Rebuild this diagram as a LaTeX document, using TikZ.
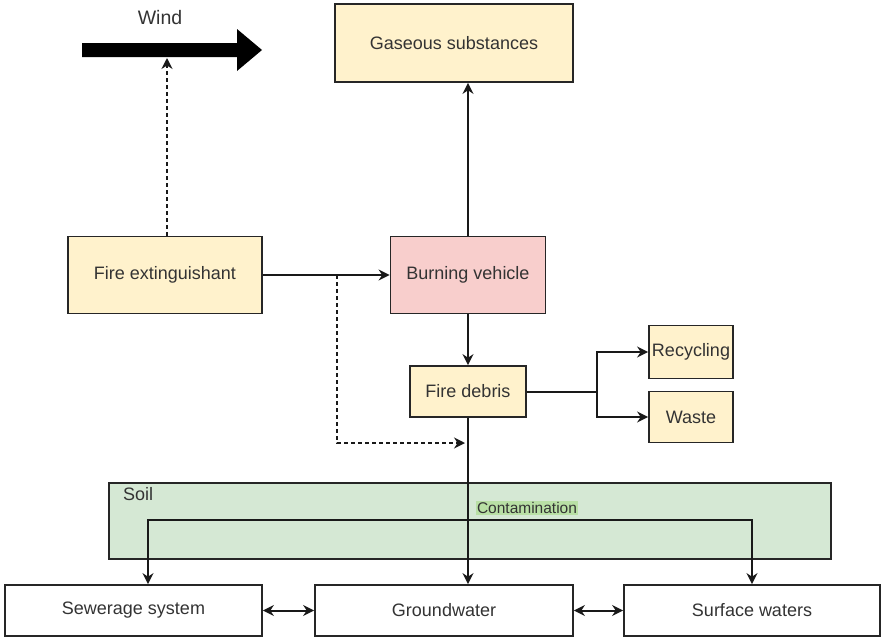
\documentclass[tikz,border=0pt]{standalone}
\usepackage{fontspec}
\setmainfont{Liberation Sans}
\usetikzlibrary{arrows.meta}
\definecolor{yfill}{HTML}{FFF2CC}
\definecolor{pfill}{HTML}{F8CECC}
\definecolor{gfill}{HTML}{D5E8D4}
\definecolor{lblbg}{HTML}{B9E0A5}
\definecolor{txt}{HTML}{333333}
\tikzset{
  box/.style={draw=black!85, line width=1.8pt, text=txt, font=\fontsize{18}{21}\selectfont, inner sep=0pt},
  ybox/.style={box, fill=yfill},
  arr/.style={line width=2pt, draw=black!90, -{Stealth[length=11pt,width=11pt]}},
  darr/.style={arr, {Stealth[length=11pt,width=11pt]}-{Stealth[length=11pt,width=11pt]}},
  ln/.style={line width=2pt, draw=black!90},
  dsh/.style={line width=2.2pt, dash pattern=on 4pt off 3pt},
}
\begin{document}
\begin{tikzpicture}[x=1pt,y=-1pt]
\useasboundingbox (0,0) rectangle (882,637);
% soil
\node[box, fill=gfill, minimum width=722pt, minimum height=76pt, anchor=north west] (soil) at (108,482) {};
\node[text=txt, font=\fontsize{18}{21}\selectfont, anchor=west, inner sep=0pt] (soillbl) at (123,494) {Soil};
% boxes
\node[ybox, minimum width=238pt, minimum height=78pt] (gas) at (454,43) {Gaseous substances};
\node[ybox, minimum width=194pt, minimum height=77pt] (ext) at (165,275) {Fire extinguishant};
\node[box, fill=pfill, minimum width=155pt, minimum height=77pt] (burn) at (468,275) {Burning vehicle};
\node[ybox, minimum width=116pt, minimum height=51pt] (debris) at (468,391.5) {Fire debris};
\node[ybox, minimum width=84pt, minimum height=53pt] (recyc) at (691,352) {Recycling};
\node[ybox, minimum width=84pt, minimum height=51pt] (waste) at (691,417) {Waste};
\node[box, fill=white, minimum width=257pt, minimum height=51pt] (sewer) at (133.5,610.5) {Sewerage system};
\node[box, fill=white, minimum width=258pt, minimum height=51pt] (ground) at (444,610.5) {Groundwater};
\node[box, fill=white, minimum width=256pt, minimum height=51pt] (surface) at (752,610.5) {Surface waters};
% wind
\node[text=txt, font=\fontsize{19.5}{22}\selectfont, inner sep=0pt] (windlbl) at (160,18) {Wind};
\fill[black] (82,43) -- (237,43) -- (237,29) -- (262,50) -- (237,71) -- (237,57) -- (82,57) -- cycle;
\coordinate (windpt) at (167,58);
% connectors
\draw[arr, dsh] (ext.north -| windpt) -- (windpt);
\draw[arr] (ext.east) -- (burn.west);
\draw[arr] (burn.north) -- (burn.north |- gas.south);
\draw[arr] (burn.south) -- (burn.south |- debris.north);
\coordinate (dj) at (337,275);
\coordinate (dtip) at (465,443);
\draw[arr, dsh] (dj) |- (dtip);
\coordinate (br) at (597,391.5);
\draw[ln] (debris.east) -- (br);
\draw[arr] (br) |- (recyc.west);
\draw[arr] (br) |- (waste.west);
\draw[arr] (debris.south) -- (debris.south |- ground.north);
\coordinate (cl) at (148,520);
\coordinate (cr) at (752,520);
\draw[darr] (cl |- sewer.north) -- (cl) -- (cr) -- (surface.north);
\draw[darr] (sewer.east) -- (ground.west);
\draw[darr] (ground.east) -- (surface.west);
\node[fill=lblbg, text=txt, font=\fontsize{15.5}{18}\selectfont, inner sep=1.5pt] (contam) at (527,508) {Contamination};
\end{tikzpicture}
\end{document}
